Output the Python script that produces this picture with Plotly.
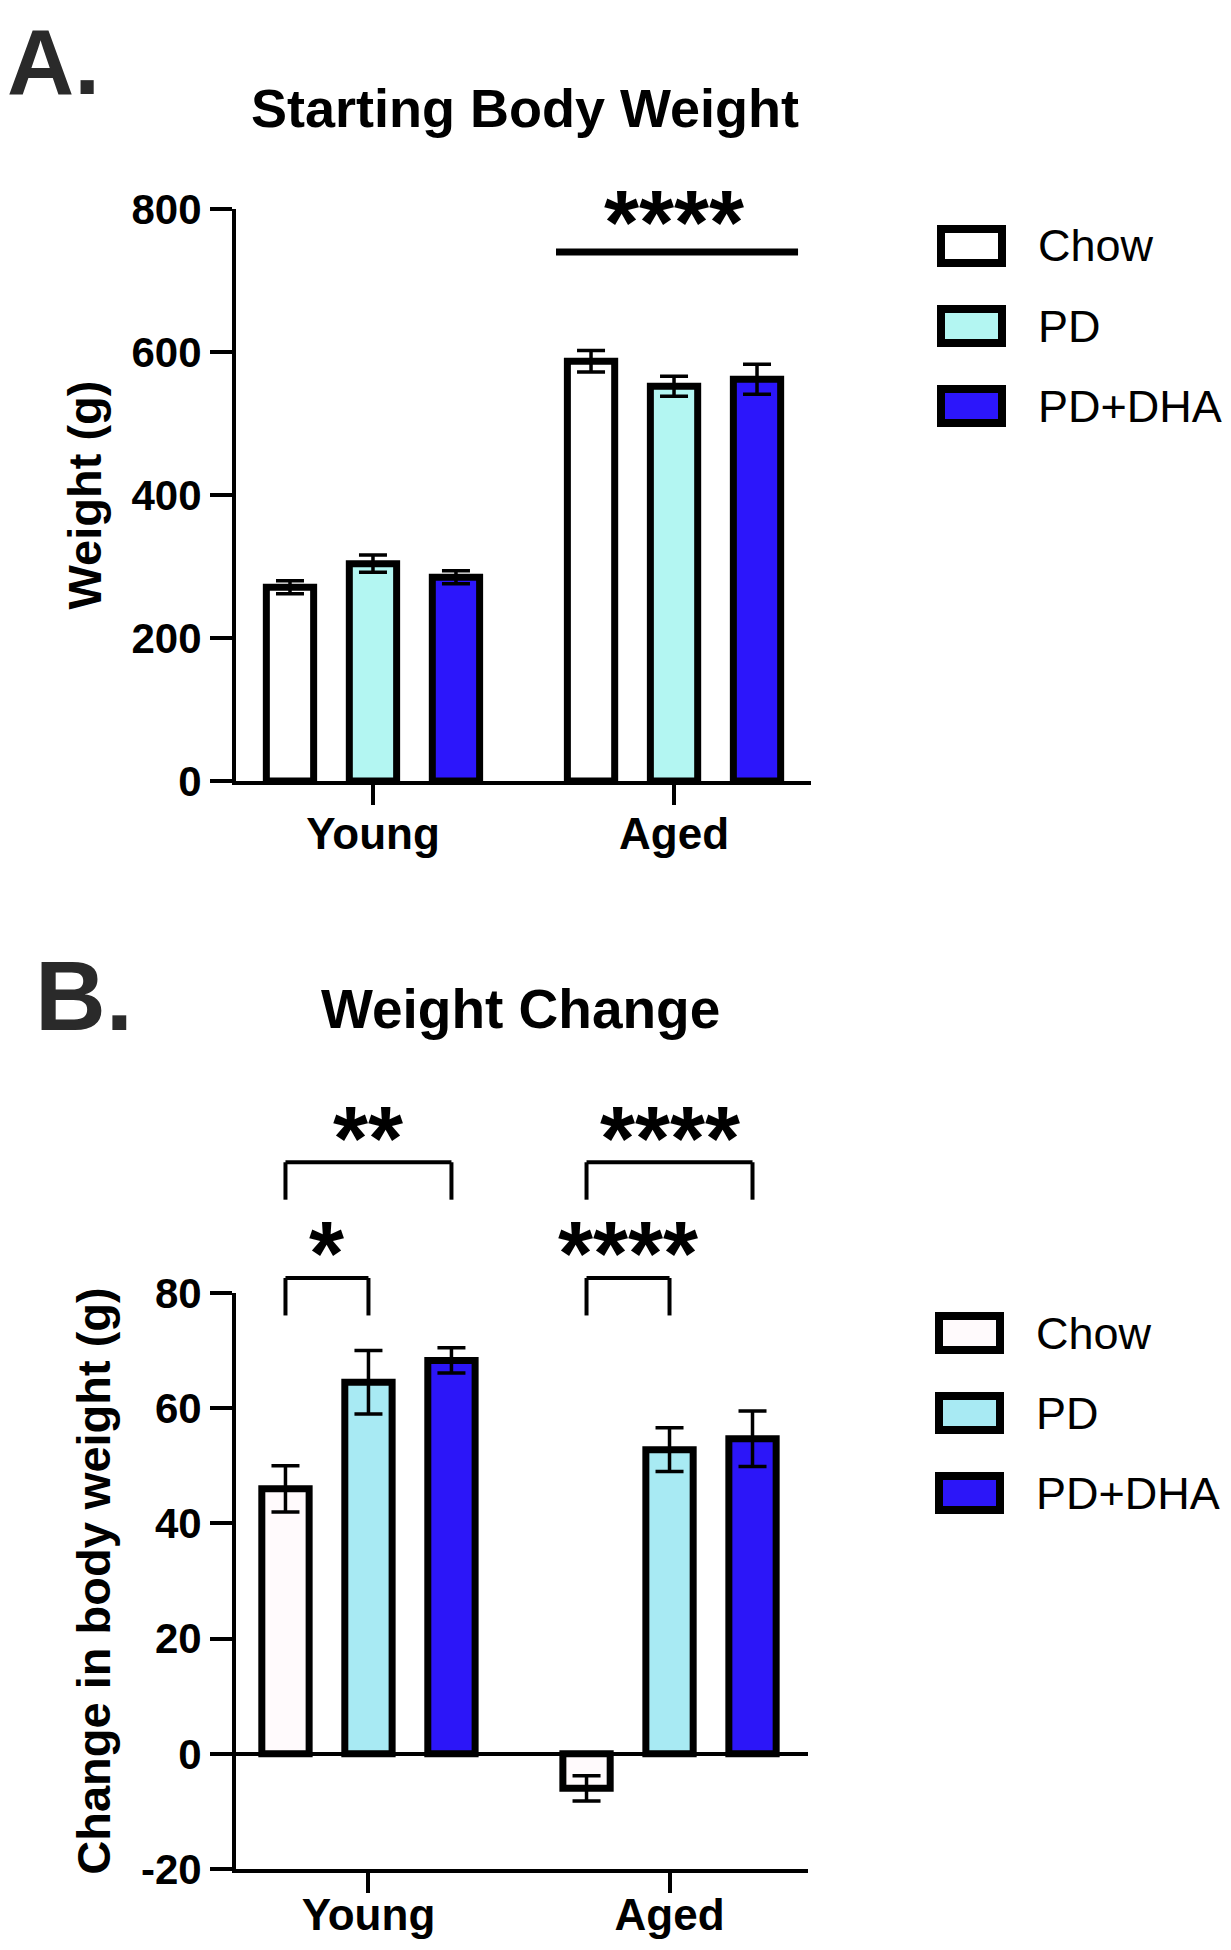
import plotly.graph_objects as go
from plotly.subplots import make_subplots

# ---------------- data ----------------
groups = ["Young", "Aged"]
series = ["Chow", "PD", "PD+DHA"]

# Panel A: starting body weight (g)
a_chow = [271, 587]
a_chow_err = [9, 15]
a_pd = [304, 552]
a_pd_err = [12, 14]
a_dha = [285, 562]
a_dha_err = [9, 21]

# Panel B: change in body weight (g)
b_chow = [46.0, -6.0]
b_chow_err = [4.0, 2.2]
b_pd = [64.5, 52.8]
b_pd_err = [5.5, 3.8]
b_dha = [68.3, 54.7]
b_dha_err = [2.2, 4.8]

a_ticks = [0, 200, 400, 600, 800]
b_ticks = [-20, 0, 20, 40, 60, 80]

colors_a = ["#ffffff", "#b3f6f2", "#2c16fb"]
colors_b = ["#fffafc", "#a8eaf3", "#2c16f8"]

# significance (panel A: aged vs young; panel B: brackets)
a_sig_label = "****"
a_sig_y = 740
b_sig = [  # (group index, from series idx, to series idx, label, bracket y)
    (0, 0, 1, "*", 82.6),
    (0, 0, 2, "**", 102.7),
    (1, 0, 1, "****", 82.6),
    (1, 0, 2, "****", 102.7),
]

# ---------------- layout helpers ----------------
OFF = 8                      # page body margin of the html page
W, H = 1231 - 2 * OFF, 1950 - 2 * OFF
def px(x):
    return (x - OFF) / W
def py(y):
    return 1 - (y - OFF) / H

BARGAP = 0.173
GROUPGAP = 0.43
SLOT = (1 - BARGAP) / 3
FONT = "Liberation Sans"

A_TOP, A_BOT = 209, 781
B_TOP, B_BOT = 1293, 1869
XR_A = [-0.455, 1.455]
XR_B = [-0.44, 1.46]
B_RANGE = [b_ticks[0], b_ticks[-1]]

def xdom_b(p):
    return (p - XR_B[0]) / (XR_B[1] - XR_B[0])
def ydom_b(v):
    return (v - B_RANGE[0]) / (B_RANGE[1] - B_RANGE[0])

fig = make_subplots(rows=2, cols=1)

a_vals = [(a_chow, a_chow_err), (a_pd, a_pd_err), (a_dha, a_dha_err)]
b_vals = [(b_chow, b_chow_err), (b_pd, b_pd_err), (b_dha, b_dha_err)]

for i, name in enumerate(series):
    v, e = a_vals[i]
    fig.add_trace(go.Bar(
        x=groups, y=v, name=name, showlegend=False,
        marker=dict(color=colors_a[i], line=dict(color="black", width=7)),
        error_y=dict(type="data", array=e, color="black", thickness=3.5, width=14),
    ), row=1, col=1)
for i, name in enumerate(series):
    v, e = b_vals[i]
    fig.add_trace(go.Bar(
        x=groups, y=v, name=name, showlegend=False,
        marker=dict(color=colors_b[i], line=dict(color="black", width=7)),
        error_y=dict(type="data", array=e, color="black", thickness=3.5, width=14),
    ), row=2, col=1)

axfont = dict(family=FONT, size=42, color="black", weight="bold")
xfont = dict(family=FONT, size=44, color="black", weight="bold")
ytitle_font = dict(family=FONT, size=47, color="black", weight="bold")

common_x = dict(showline=True, linecolor="black", linewidth=4, ticks="outside",
                ticklen=20, tickwidth=4, tickcolor="black", tickfont=xfont,
                showgrid=False, zeroline=False, automargin=False)
common_y = dict(showline=True, linecolor="black", linewidth=4, ticks="outside",
                ticklen=22, tickwidth=4, tickcolor="black", tickfont=axfont,
                showgrid=False, automargin=False)

fig.update_layout(
    template="none",
    width=W, height=H,
    margin=dict(l=0, r=0, t=0, b=0),
    paper_bgcolor="white", plot_bgcolor="white",
    barmode="group", bargap=BARGAP, bargroupgap=GROUPGAP,
    xaxis=dict(domain=[px(236), px(811)], range=XR_A, ticklabelstandoff=-9, **common_x),
    yaxis=dict(domain=[py(A_BOT), py(A_TOP)], range=[a_ticks[0], a_ticks[-1]],
               tickvals=a_ticks, ticktext=[str(t) for t in a_ticks], zeroline=False,
               title=dict(text="Weight (g)", standoff=16, font=ytitle_font), **common_y),
    xaxis2=dict(domain=[px(236), px(808)], range=XR_B, ticklabelstandoff=-16, **common_x),
    yaxis2=dict(domain=[py(B_BOT), py(B_TOP)], range=B_RANGE,
                tickvals=b_ticks, ticktext=[str(t) for t in b_ticks],
                zeroline=True, zerolinecolor="black", zerolinewidth=4,
                title=dict(text="Change in body weight (g)", standoff=16, font=ytitle_font),
                **common_y),
)

shapes = []
ann = []
star_font = dict(family=FONT, size=90, color="black", weight="bold")

# Panel A significance line
shapes.append(dict(type="line", xref="x", yref="y", x0=1 - 0.392, x1=1 + 0.412,
                   y0=a_sig_y, y1=a_sig_y, line=dict(color="black", width=7)))
ann.append(dict(x=1, y=797, xref="x", yref="y", text=a_sig_label, showarrow=False,
                xanchor="center", yanchor="middle", yshift=-12, font=star_font))

# Panel B brackets (drawn above the axis range, in domain coordinates)
for g, s0, s1, lab, by in b_sig:
    x0 = xdom_b(g + (s0 - 1) * SLOT)
    x1 = xdom_b(g + (s1 - 1) * SLOT)
    yt = ydom_b(by)
    yl = ydom_b(by - 6.5)
    ln = dict(color="black", width=4)
    for (xa, xb, ya, yb) in [(x0, x1, yt, yt), (x0, x0, yt, yl), (x1, x1, yt, yl)]:
        shapes.append(dict(type="line", xref="x2 domain", yref="y2 domain",
                           x0=xa, x1=xb, y0=ya, y1=yb, line=ln))
    ann.append(dict(x=(x0 + x1) / 2, y=ydom_b(by + 6.7), xref="x2 domain", yref="y2 domain",
                    text=lab, showarrow=False, xanchor="center", yanchor="middle",
                    yshift=-15, font=star_font))

# Panel labels and titles
ann.append(dict(x=px(5), y=1, xref="paper", yref="paper", text="A.",
                showarrow=False, xanchor="left", yanchor="top",
                font=dict(family=FONT, size=93, color="#2a2a2a", weight="bold")))
ann.append(dict(x=px(33), y=py(996), xref="paper", yref="paper", text="B.",
                showarrow=False, xanchor="left", yanchor="middle",
                font=dict(family=FONT, size=98, color="#2a2a2a", weight="bold")))
ann.append(dict(x=px(525), y=py(108), xref="paper", yref="paper",
                text="Starting Body Weight", showarrow=False, xanchor="center",
                yanchor="middle",
                font=dict(family=FONT, size=54, color="black", weight="bold")))
ann.append(dict(x=px(520), y=py(1009), xref="paper", yref="paper",
                text="Weight Change", showarrow=False, xanchor="center", yanchor="middle",
                font=dict(family=FONT, size=55, color="black", weight="bold")))

# Manual legends (big outlined swatches)
def add_legend(centers, colors, bx0, bx1, tx):
    for i, name in enumerate(series):
        cy = centers[i]
        shapes.append(dict(type="rect", xref="paper", yref="paper",
                           x0=px(bx0), x1=px(bx1), y0=py(cy + 17), y1=py(cy - 17),
                           fillcolor=colors[i], line=dict(color="black", width=8)))
        ann.append(dict(x=px(tx), y=py(cy), xref="paper", yref="paper", text=name,
                        showarrow=False, xanchor="left", yanchor="middle",
                        font=dict(family=FONT, size=45, color="black")))

add_legend([246, 326, 406], colors_a, 941, 1002, 1036)
add_legend([1333, 1413, 1493], colors_b, 939, 1000, 1034)

fig.update_layout(shapes=shapes, annotations=ann)
fig.write_html("out.html")
